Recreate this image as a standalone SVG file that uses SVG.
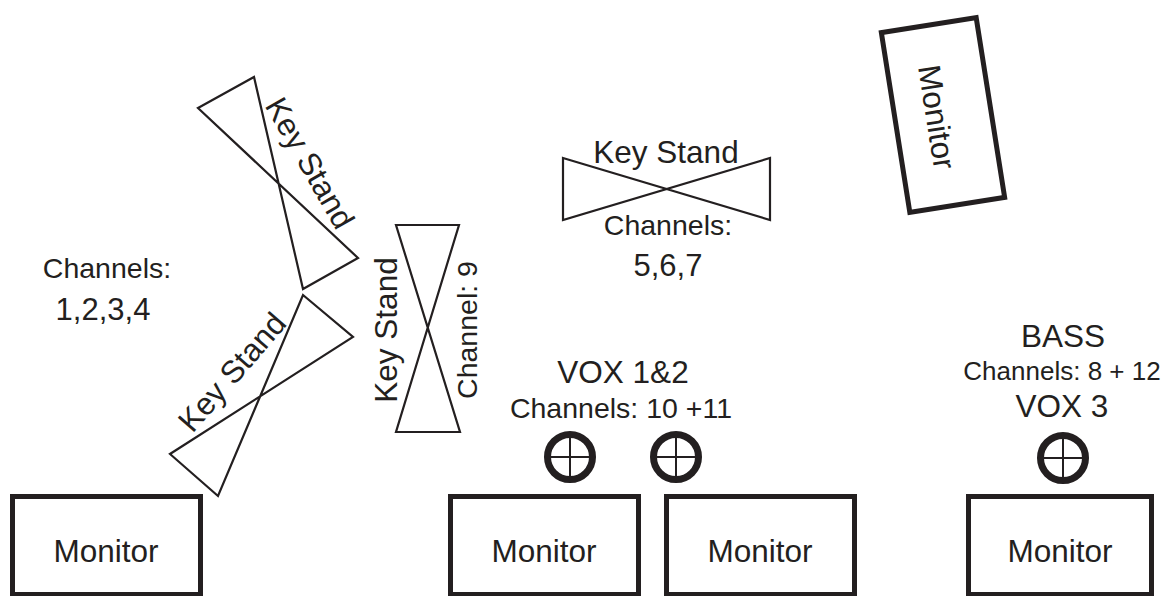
<svg xmlns="http://www.w3.org/2000/svg" width="1169" height="596" viewBox="0 0 1169 596">
<style>
text{font-family:"Liberation Sans",Arial,sans-serif;fill:#231f20}
.big{font-size:31.5px}
.ch{font-size:28.5px}
.num{font-size:31px}
.sm{font-size:26px}
.stand{fill:none;stroke:#231f20;stroke-width:2.2;stroke-linejoin:miter}
.mon{fill:#fff;stroke:#231f20;stroke-width:5}
.mic{fill:none;stroke:#231f20;stroke-width:7}
.cross{stroke:#231f20;stroke-width:2}
</style>
<rect width="1169" height="596" fill="#fff"/>
<g id="keystand-upper-left">
<polygon class="stand" points="198,108 254,77 303,289 358,258"/>
<text class="big" text-anchor="middle" transform="translate(310,163) rotate(60)" y="11">Key Stand</text>
</g>
<g id="keystand-lower-left">
<polygon class="stand" points="303,295 353,337 170,454 218,496"/>
<text class="big" text-anchor="middle" transform="translate(232,372) rotate(-49)" y="11">Key Stand</text>
</g>
<g id="channels-1-4">
<text class="ch" text-anchor="middle" x="107" y="278">Channels:</text>
<text class="num" text-anchor="middle" x="103" y="320">1,2,3,4</text>
</g>
<g id="keystand-vertical">
<polygon class="stand" points="396,225 459,225 396,432 460,432"/>
<text class="big" text-anchor="middle" transform="translate(386,330) rotate(-90)" y="11">Key Stand</text>
<text class="ch" text-anchor="middle" transform="translate(467,330) rotate(-90)" y="10">Channel: 9</text>
</g>
<g id="keystand-center">
<polygon class="stand" points="563,158 770,220 770,158 563,220"/>
<text class="big" text-anchor="middle" x="666" y="163">Key Stand</text>
<text class="ch" text-anchor="middle" x="668" y="235">Channels:</text>
<text class="num" text-anchor="middle" x="668" y="276">5,6,7</text>
</g>
<g id="monitor-top-right">
<rect class="mon" x="-48" y="-91" width="96" height="182" transform="translate(943,115) rotate(-9)"/>
<text class="big" text-anchor="middle" transform="translate(937,117) rotate(81)" y="11">Monitor</text>
</g>
<g id="vox12-label">
<text class="big" text-anchor="middle" x="623" y="383">VOX 1&amp;2</text>
<text class="ch" text-anchor="middle" x="621" y="418">Channels: 10 +11</text>
</g>
<g id="bass-label">
<text class="big" text-anchor="middle" x="1063" y="347">BASS</text>
<text class="sm" text-anchor="middle" x="1062" y="380">Channels: 8 + 12</text>
<text class="big" text-anchor="middle" x="1062" y="417">VOX 3</text>
</g>
<g id="mic-1">
<circle class="mic" cx="570" cy="457" r="22.5"/>
<line class="cross" x1="545" y1="457" x2="595" y2="457"/>
<line class="cross" x1="570" y1="432" x2="570" y2="482"/>
</g>
<g id="mic-2">
<circle class="mic" cx="676" cy="457" r="22.5"/>
<line class="cross" x1="651" y1="457" x2="701" y2="457"/>
<line class="cross" x1="676" y1="432" x2="676" y2="482"/>
</g>
<g id="mic-3">
<circle class="mic" cx="1063" cy="458" r="22.5"/>
<line class="cross" x1="1038" y1="458" x2="1088" y2="458"/>
<line class="cross" x1="1063" y1="433" x2="1063" y2="483"/>
</g>
<g id="monitor-1">
<rect class="mon" x="12.5" y="496.5" width="188" height="98"/>
<text class="big" text-anchor="middle" x="106" y="562">Monitor</text>
</g>
<g id="monitor-2">
<rect class="mon" x="450.5" y="496.5" width="188" height="98"/>
<text class="big" text-anchor="middle" x="544" y="562">Monitor</text>
</g>
<g id="monitor-3">
<rect class="mon" x="666.5" y="496.5" width="188" height="98"/>
<text class="big" text-anchor="middle" x="760" y="562">Monitor</text>
</g>
<g id="monitor-4">
<rect class="mon" x="968.5" y="496.5" width="183" height="98"/>
<text class="big" text-anchor="middle" x="1060" y="562">Monitor</text>
</g>
<g id="connectors"></g>
</svg>
